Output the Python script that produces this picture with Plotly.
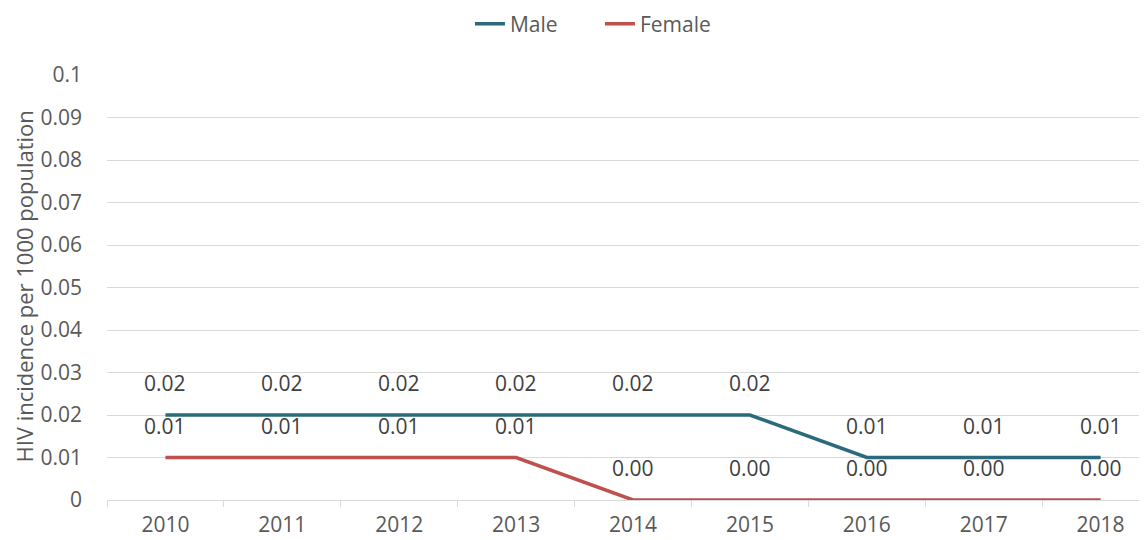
import plotly.graph_objects as go

years = ["2010", "2011", "2012", "2013", "2014", "2015", "2016", "2017", "2018"]
male = [0.02, 0.02, 0.02, 0.02, 0.02, 0.02, 0.01, 0.01, 0.01]
female = [0.01, 0.01, 0.01, 0.01, 0.0, 0.0, 0.0, 0.0, 0.0]
male_labels = ["0.02", "0.02", "0.02", "0.02", "0.02", "0.02", "0.01", "0.01", "0.01"]
female_labels = ["0.01", "0.01", "0.01", "0.01", "0.00", "0.00", "0.00", "0.00", "0.00"]
y_ticks = [0, 0.01, 0.02, 0.03, 0.04, 0.05, 0.06, 0.07, 0.08, 0.09, 0.1]
y_ticktext = ["0", "0.01", "0.02", "0.03", "0.04", "0.05", "0.06", "0.07", "0.08", "0.09", "0.1"]
y_title = "HIV incidence per 1000 population"

MALE_C = "#2A6A7C"
FEMALE_C = "#C0504D"
TXT = "#595959"
FONT = "'Open Sans', Lato, sans-serif"

fig = go.Figure()
fig.add_trace(go.Scatter(x=years, y=male, mode="lines", name="Male",
                         line=dict(color=MALE_C, width=3.5)))
fig.add_trace(go.Scatter(x=years, y=female, mode="lines", name="Female",
                         line=dict(color=FEMALE_C, width=3.5)))

for ys, labs in [(male, male_labels), (female, female_labels)]:
    for i, (y, t) in enumerate(zip(ys, labs)):
        fig.add_annotation(x=i, y=y, xref="x", yref="y", text=t, showarrow=False,
                           yshift=32, font=dict(size=21, color="#404040", family=FONT))

# y-axis title
fig.add_annotation(x=-0.0795, y=0.503, xref="paper", yref="paper", text=y_title,
                   textangle=-90, showarrow=False, xanchor="center", yanchor="middle",
                   borderpad=0, font=dict(size=22, color=TXT, family=FONT))

fig.update_layout(
    width=1139, height=532,
    margin=dict(l=99, r=0, t=67, b=40, autoexpand=False),
    paper_bgcolor="white", plot_bgcolor="white",
    font=dict(family=FONT, color=TXT, size=21),
    showlegend=True,
    legend=dict(orientation="h", x=0.474, xref="paper", xanchor="center",
                y=1.12, yanchor="middle", font=dict(size=21, color=TXT),
                entrywidth=85, entrywidthmode="pixels", tracegroupgap=0),
    xaxis=dict(type="category", range=[-0.5, 8.397], showgrid=False,
               showline=True, linecolor="#D9D9D9", linewidth=1,
               ticks="outside", tickson="boundaries", ticklen=6,
               tickcolor="#D9D9D9", tickfont=dict(size=21, color=TXT),
               ticklabelstandoff=6),
    yaxis=dict(range=[0, 0.1], tickvals=y_ticks, ticktext=y_ticktext,
               showgrid=True, gridcolor="#D9D9D9", gridwidth=1,
               zeroline=False, showline=False,
               tickfont=dict(size=21, color=TXT), ticklabelstandoff=24),
)

fig.write_html("out.html")
